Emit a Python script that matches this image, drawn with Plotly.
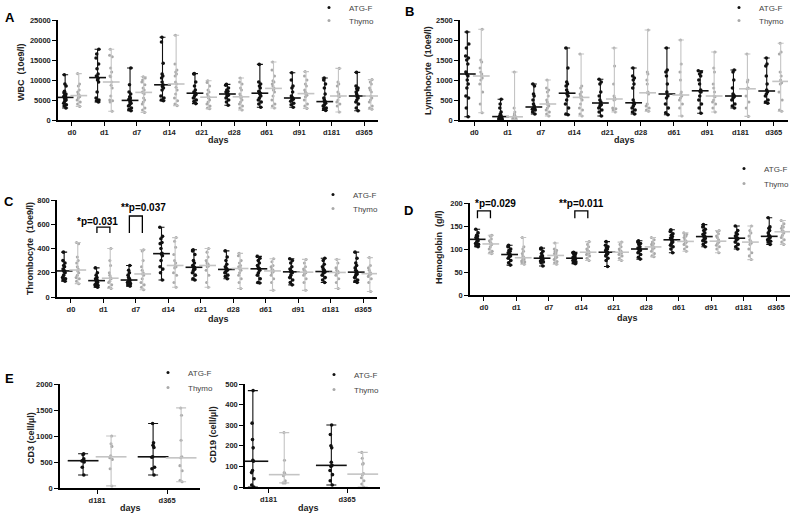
import numpy as np
import plotly.graph_objects as go

W, H = 792, 515
FONT = "Arial, Liberation Sans, sans-serif"

days = ["d0", "d1", "d7", "d14", "d21", "d28", "d61", "d91", "d181", "d365"]
days_e = ["d181", "d365"]
groups = ["ATG-F", "Thymo"]

# ---------------- Panel A: WBC (10e9/l) ----------------
wbc_atg = [
    [11300, 9000, 8500, 7200, 6800, 6500, 6200, 6000, 5800, 5500, 5400, 5200, 5000, 4700, 4200, 3800, 3500, 3000],
    [17700, 16500, 15500, 14000, 12800, 11500, 11000, 10800, 10400, 10000, 9500, 7000, 5500, 5000, 4800, 4500],
    [13000, 8800, 7000, 6500, 5800, 5500, 5200, 5000, 4800, 4500, 4200, 3800, 3500, 3000, 2600, 2300],
    [20700, 19500, 14200, 11500, 11000, 10500, 9500, 8800, 8400, 8000, 7500, 6000, 5500, 5000, 4800],
    [11600, 11500, 9500, 8500, 7500, 7000, 6800, 6700, 6600, 6400, 6000, 5500, 5000, 4600, 4100],
    [8900, 8700, 8000, 7500, 7200, 7000, 6800, 6500, 6400, 6200, 6000, 5500, 5000, 4500, 3700],
    [13900, 9500, 9000, 8500, 8000, 7200, 7000, 6700, 6500, 6000, 5500, 5000, 4500, 4000, 3200],
    [11800, 10000, 8500, 8000, 7000, 6000, 5700, 5500, 5300, 5200, 5000, 4700, 4200, 3800, 3200],
    [10500, 10000, 9000, 8000, 6500, 5500, 5000, 4600, 4500, 4200, 3800, 3500, 3000, 2800, 2400],
    [11900, 8500, 8000, 7800, 7500, 7000, 6500, 6000, 5800, 5500, 5000, 4500, 4000, 3000, 2300],
]
wbc_thy = [
    [11600, 9000, 8500, 7500, 7000, 6500, 6200, 6000, 5800, 5500, 5000, 4500, 4000, 3400],
    [17700, 16200, 15800, 13000, 12000, 11000, 10800, 9500, 8700, 8000, 6000, 5000, 4800, 4500, 2200],
    [10800, 10500, 10000, 9500, 8800, 8000, 7500, 7000, 6900, 6500, 5500, 5000, 4500, 4000, 3000, 2500, 1900],
    [21200, 14000, 12500, 12000, 11500, 11000, 9500, 9000, 8200, 7500, 6500, 5500, 4800, 4000, 3600],
    [9800, 9400, 8500, 7500, 7000, 6500, 6000, 5700, 5500, 5000, 4500, 4000, 3500, 3000, 2800],
    [10500, 9500, 9000, 8000, 7500, 6500, 6000, 5800, 5500, 5000, 4500, 4000, 3500, 3000, 2500],
    [14500, 12500, 11000, 9800, 9500, 9000, 8500, 7900, 7500, 7000, 6000, 5000, 4000, 3500, 3000],
    [12100, 11000, 10000, 9000, 8500, 7500, 7000, 6600, 6500, 6200, 5800, 5000, 4000, 3500, 2900],
    [12900, 9500, 9000, 8500, 7000, 6500, 6000, 5800, 5000, 4500, 4000, 3500, 2000],
    [10100, 9500, 9000, 8000, 7500, 7000, 6000, 5500, 5000, 4500, 3500, 3000, 2700],
]

# ---------------- Panel B: Lymphocyte (10e9/l) ----------------
lym_atg = [
    [2200, 1900, 1800, 1600, 1550, 1500, 1400, 1200, 1150, 1100, 1000, 900, 800, 600, 550, 300, 80],
    [520, 400, 300, 200, 150, 120, 100, 90, 80, 70, 60, 50, 40, 30, 20, 10],
    [900, 850, 650, 600, 500, 400, 350, 300, 290, 280, 270, 250, 200, 150],
    [1800, 1300, 950, 900, 850, 750, 690, 650, 600, 500, 400, 300, 150, 130],
    [1020, 950, 900, 700, 600, 500, 450, 400, 380, 350, 300, 250, 200, 100],
    [1300, 1100, 1050, 1000, 900, 800, 500, 430, 420, 400, 350, 300, 250, 200, 150],
    [1800, 1250, 1200, 1100, 900, 700, 600, 550, 400, 300, 180, 130],
    [1230, 1200, 1150, 1100, 1000, 900, 750, 710, 700, 600, 500, 400, 300, 170],
    [1250, 1200, 1000, 800, 650, 620, 600, 580, 550, 500, 400, 350, 300],
    [1550, 1400, 1350, 1100, 900, 750, 700, 650, 600, 500, 450, 420],
]
lym_thy = [
    [2270, 1500, 1450, 1300, 1200, 1150, 1100, 1050, 1000, 900, 700, 400, 180],
    [1200, 300, 200, 150, 120, 100, 90, 80, 70, 60, 50, 40, 30, 20, 10],
    [1000, 800, 750, 700, 600, 500, 450, 400, 380, 350, 300, 250, 200, 150, 100],
    [1650, 850, 800, 700, 650, 600, 580, 550, 500, 400, 300, 250, 150, 100],
    [1800, 1350, 900, 600, 550, 530, 520, 500, 300, 280, 250, 200],
    [2250, 1200, 1150, 1000, 900, 700, 680, 650, 400, 350, 300, 250, 220],
    [2000, 1400, 1200, 1000, 700, 650, 600, 550, 500, 400, 300, 100],
    [1700, 1300, 1200, 900, 800, 700, 600, 580, 500, 450, 400, 300, 200],
    [1650, 1000, 950, 800, 780, 600, 450, 300, 90],
    [1920, 1700, 1650, 1200, 1100, 1000, 930, 900, 700, 500, 250, 220],
]

# ---------------- Panel C: Thrombocyte (10e9/l) ----------------
plt_atg = [
    [370, 300, 280, 260, 250, 230, 220, 215, 210, 200, 180, 160, 150, 140, 130],
    [240, 200, 180, 160, 150, 145, 140, 130, 120, 110, 100, 95, 90, 80],
    [260, 220, 200, 180, 160, 150, 140, 135, 130, 120, 110, 100, 90],
    [575, 500, 480, 450, 440, 400, 360, 355, 340, 300, 250, 230, 200, 140],
    [390, 380, 350, 300, 280, 260, 250, 245, 240, 230, 220, 200, 180, 150, 140],
    [380, 330, 300, 270, 250, 240, 230, 225, 220, 210, 200, 180, 170, 150],
    [335, 320, 300, 280, 260, 240, 235, 230, 220, 200, 180, 150, 120, 115],
    [315, 300, 280, 250, 230, 215, 210, 205, 200, 180, 160, 140, 120, 100],
    [320, 300, 270, 250, 230, 220, 210, 205, 200, 180, 160, 140, 120],
    [370, 320, 280, 260, 240, 220, 210, 200, 190, 180, 160, 140, 130, 120],
]
plt_thy = [
    [450, 440, 330, 300, 280, 250, 230, 215, 200, 180, 160, 150, 130, 110],
    [400, 300, 260, 200, 180, 160, 155, 150, 130, 120, 100, 80, 70],
    [390, 380, 300, 250, 220, 200, 190, 180, 150, 120, 100, 80, 60],
    [490, 460, 410, 350, 300, 280, 260, 250, 240, 200, 180, 120, 80],
    [400, 370, 330, 300, 280, 270, 260, 255, 250, 220, 180, 120, 80],
    [360, 340, 300, 280, 260, 250, 240, 235, 230, 220, 200, 180, 150, 120, 70],
    [315, 290, 260, 250, 230, 220, 215, 210, 200, 180, 150, 120, 55],
    [310, 280, 250, 230, 220, 210, 205, 200, 190, 180, 150, 120, 55],
    [310, 280, 240, 220, 210, 205, 200, 195, 180, 150, 120, 70],
    [325, 260, 240, 220, 200, 195, 190, 185, 170, 150, 120, 45],
]

# ---------------- Panel D: Hemoglobin (g/l) ----------------
hb_atg = [
    [143, 135, 130, 128, 125, 123, 122, 120, 118, 115, 112, 110, 107, 105],
    [108, 105, 100, 97, 95, 92, 90, 88, 87, 85, 83, 80, 75, 70, 65],
    [102, 100, 95, 90, 85, 83, 81, 80, 79, 78, 76, 74, 72, 70, 63],
    [93, 92, 90, 88, 85, 82, 81, 80, 79, 78, 77, 75, 72, 70, 68],
    [116, 108, 105, 102, 100, 97, 95, 93, 92, 90, 88, 85, 80, 75, 62],
    [118, 115, 112, 110, 105, 102, 101, 100, 99, 97, 95, 92, 88, 82, 78],
    [142, 138, 133, 130, 127, 124, 121, 120, 118, 115, 112, 108, 105, 100, 92],
    [153, 148, 143, 140, 135, 132, 130, 127, 125, 123, 120, 118, 115, 110, 105],
    [150, 140, 135, 132, 128, 125, 124, 123, 122, 120, 115, 110, 105, 100],
    [168, 148, 145, 140, 135, 130, 128, 127, 125, 122, 120, 117, 115, 110],
]
hb_thy = [
    [130, 128, 122, 118, 115, 112, 111, 110, 105, 100, 95, 92, 90],
    [125, 105, 100, 95, 90, 85, 82, 80, 78, 76, 74, 72, 70, 67],
    [113, 100, 97, 95, 92, 90, 88, 86, 85, 82, 80, 77, 73, 70, 67],
    [116, 110, 105, 100, 97, 95, 93, 92, 90, 88, 85, 80, 75],
    [115, 110, 105, 100, 97, 95, 93, 92, 90, 88, 85, 80, 75],
    [125, 120, 115, 112, 110, 107, 105, 104, 102, 100, 95, 90, 85, 83],
    [135, 132, 130, 128, 125, 120, 117, 116, 115, 112, 110, 105, 100, 95],
    [140, 138, 133, 128, 125, 120, 117, 115, 112, 108, 105, 100, 92],
    [150, 140, 135, 128, 120, 116, 115, 113, 110, 100, 92, 85, 77],
    [162, 155, 150, 148, 145, 140, 138, 137, 135, 130, 125, 120, 115, 110],
]

# ---------------- Panel E: CD3 / CD19 (cell/µl) ----------------
cd3_atg = [
    [660, 640, 560, 530, 520, 500, 400, 250],
    [1240, 870, 820, 780, 600, 590, 400, 370, 250],
]
cd3_thy = [
    [1000, 850, 800, 620, 580, 550, 370, 40],
    [1540, 1400, 920, 600, 580, 430, 330, 150, 120],
]
cd19_atg = [
    [468, 310, 230, 190, 130, 125, 80, 70, 40, 10, 0],
    [301, 255, 200, 190, 120, 105, 100, 80, 60, 30, 10],
]
cd19_thy = [
    [264, 130, 70, 65, 60, 55, 30, 20, 20],
    [168, 140, 115, 110, 65, 60, 45, 30, 15, 0],
]

# ---------------- styling ----------------
ATG_PT = "#111111"
THY_PT = "#a9a9a9"
ATG_BAR = "#111111"
THY_BAR = "#c4c4c4"


def px_x(p):
    return p / W


def px_y(p):
    return 1 - p / H


fig = go.Figure()


def axn(ax):
    return ("x", "y") if ax == 1 else ("x%d" % ax, "y%d" % ax)


def add_group(ax, pos, vals, pt_color, bar_color, boxw, medlen, capw, msize):
    xa, ya = axn(ax)
    v = np.array(vals, dtype=float)
    med = float(np.median(v))
    fig.add_trace(go.Box(
        y=v, x0=pos, width=boxw, boxpoints="all", jitter=0.9, pointpos=0,
        marker=dict(color=pt_color, size=msize),
        line=dict(width=0, color="rgba(0,0,0,0)"), fillcolor="rgba(0,0,0,0)",
        xaxis=xa, yaxis=ya, showlegend=False, hoverinfo="y", hoveron="points"))
    fig.add_trace(go.Scatter(
        x=[pos], y=[med], mode="markers",
        marker=dict(symbol="line-ew", size=medlen, color=bar_color,
                    line=dict(width=1.6, color=bar_color)),
        error_y=dict(type="data", symmetric=False, array=[v.max() - med],
                     arrayminus=[med - v.min()], color=bar_color,
                     thickness=1.1, width=capw),
        xaxis=xa, yaxis=ya, showlegend=False, hoverinfo="skip"))


def add_panel(ax, atg, thy, off, boxw, medlen, capw, msize):
    for i in range(len(atg)):
        add_group(ax, i - off, atg[i], ATG_PT, ATG_BAR, boxw, medlen, capw, msize)
        add_group(ax, i + off, thy[i], THY_PT, THY_BAR, boxw, medlen, capw, msize * 0.85)


add_panel(1, wbc_atg, wbc_thy, 0.21, 0.13, 12, 3, 3.6)
add_panel(2, lym_atg, lym_thy, 0.21, 0.13, 12, 3, 3.6)
add_panel(3, plt_atg, plt_thy, 0.21, 0.13, 12, 3, 3.6)
add_panel(4, hb_atg, hb_thy, 0.21, 0.13, 12, 3, 3.6)
add_panel(5, cd3_atg, cd3_thy, 0.2, 0.06, 22, 5, 3.6)
add_panel(6, cd19_atg, cd19_thy, 0.2, 0.05, 22, 5, 3.6)

# one legend per entry so that the spacing of the two entries can follow the reference
# (text-left x, ATG-F centre y, Thymo centre y) in pixels
legend_spots = {1: (343, 6, 19), 2: (753, 6, 19), 3: (347, 193, 207),
                4: (758, 167, 182), 5: (182, 371, 386), 6: (348, 373, 388)}
layout_legends = {}
leg_id = 1
for ax, (tx, y_atg, y_thy) in legend_spots.items():
    xa, ya = axn(ax)
    for name, col, yc in zip(groups, [ATG_PT, THY_PT], [y_atg, y_thy]):
        lname = "legend" if leg_id == 1 else "legend%d" % leg_id
        fig.add_trace(go.Scatter(x=[None], y=[None], mode="markers", name=name,
                                 marker=dict(color=col, size=3),
                                 xaxis=xa, yaxis=ya, legend=lname,
                                 showlegend=True, hoverinfo="skip"))
        layout_legends[lname] = dict(
            x=px_x(tx - 34), y=px_y(yc - 13), xanchor="left", yanchor="top",
            bgcolor="rgba(0,0,0,0)", borderwidth=0,
            font=dict(family=FONT, size=8, color="#444444"))
        leg_id += 1

tickfont = dict(family=FONT, size=7.5, color="#222222", weight="bold")


def xaxis(dom, rng, tickvals, ticktext, anchor):
    return dict(domain=dom, range=rng, anchor=anchor, tickmode="array",
                tickvals=tickvals, ticktext=ticktext, showline=True,
                linecolor="black", linewidth=1.5, ticks="outside", ticklen=4,
                tickwidth=1.3, tickcolor="black", showgrid=False, zeroline=False,
                tickfont=tickfont, automargin=False, fixedrange=True)


def yaxis(dom, rng, dtick, anchor):
    return dict(domain=dom, range=rng, anchor=anchor, dtick=dtick, tick0=0,
                tickformat="d",
                showline=True, linecolor="black", linewidth=1.5, ticks="outside",
                ticklen=4, tickwidth=1.3, tickcolor="black", showgrid=False,
                zeroline=False, tickfont=tickfont, automargin=False, fixedrange=True)


xr = [-0.43, 9.43]
idx = list(range(len(days)))
layout = dict(
    width=W, height=H, margin=dict(l=0, r=0, t=0, b=0, autoexpand=False),
    paper_bgcolor="white", plot_bgcolor="white",
    font=dict(family=FONT), showlegend=True,
    xaxis=xaxis([px_x(58), px_x(378)], xr, idx, days, "y"),
    yaxis=yaxis([px_y(120), px_y(20)], [0, 25000], 5000, "x"),
    xaxis2=xaxis([px_x(460), px_x(788)], xr, idx, days, "y2"),
    yaxis2=yaxis([px_y(120), px_y(20)], [0, 2500], 500, "x2"),
    xaxis3=xaxis([px_x(57), px_x(377)], xr, idx, days, "y3"),
    yaxis3=yaxis([px_y(297), px_y(200)], [0, 800], 200, "x3"),
    xaxis4=xaxis([px_x(470), px_x(790)], xr, idx, days, "y4"),
    yaxis4=yaxis([px_y(295), px_y(203)], [0, 200], 50, "x4"),
    xaxis5=xaxis([px_x(60), px_x(200)], [-0.53, 1.47], [0, 1], days_e, "y5"),
    yaxis5=yaxis([px_y(488), px_y(384)], [0, 2000], 500, "x5"),
    xaxis6=xaxis([px_x(245), px_x(380)], [-0.3, 1.42], [0, 1], days_e, "y6"),
    yaxis6=yaxis([px_y(487), px_y(384)], [0, 500], 100, "x6"),
)
layout.update(layout_legends)
fig.update_layout(**layout)

# axis titles (text, x px, y px, angle)
axis_titles = [
    ("WBC  (10e9/l)", 21, 72, -90), ("days", 218, 140, 0),
    ("Lymphocyte  (10e9/l)", 428, 71, -90), ("days", 624, 140, 0),
    ("Thrombocyte  (10e9/l)", 30, 249, -90), ("days", 218, 319, 0),
    ("Hemoglobin  (g/l)", 439, 247, -90), ("days", 627, 318, 0),
    ("CD3 (cell/\u00b5l)", 31, 438, -90), ("days", 130, 508, 0),
    ("CD19 (cell/\u00b5l)", 213, 435, -90), ("days", 308, 508, 0),
]
for text, tx, ty, ang in axis_titles:
    fig.add_annotation(text=text, x=px_x(tx), y=px_y(ty), xref="paper", yref="paper",
                       xanchor="center", yanchor="middle",
                       showarrow=False, textangle=ang,
                       font=dict(family=FONT, size=9, color="#222222", weight="bold"))

# panel letters
for letter, (lx, ly) in {"A": (10, 17), "B": (410, 12), "C": (9, 201),
                         "D": (408, 210), "E": (9, 378)}.items():
    fig.add_annotation(text=letter, x=px_x(lx), y=px_y(ly), xref="paper", yref="paper",
                       xanchor="center", yanchor="middle", showarrow=False,
                       font=dict(family=FONT, size=13, color="black", weight="bold"))


# significance brackets
def bracket(ax, i, off, y_low, y_top, label, lab_x, lab_y):
    xa, ya = axn(ax)
    x0, x1 = i - off, i + off
    fig.add_shape(type="path", xref=xa, yref=ya,
                  path=f"M {x0},{y_low} L {x0},{y_top} L {x1},{y_top} L {x1},{y_low}",
                  line=dict(color="black", width=1.3))
    fig.add_annotation(text=label, x=lab_x, y=lab_y, xref=xa, yref=ya, showarrow=False,
                       xanchor="center", yanchor="middle",
                       font=dict(family=FONT, size=10, color="black", weight="bold"))


bracket(3, 1, 0.2, 528, 577, "*p=0.031", 0.83, 620)
bracket(3, 2, 0.2, 528, 668, "**p=0.037", 2.22, 735)
bracket(4, 0, 0.2, 167, 183, "*p=0.029", 0.36, 198)
bracket(4, 3, 0.2, 167, 183, "**p=0.011", 3.0, 198)

fig.write_html("out.html", config={"displayModeBar": False},
               post_script="document.body.style.margin='0px';")
